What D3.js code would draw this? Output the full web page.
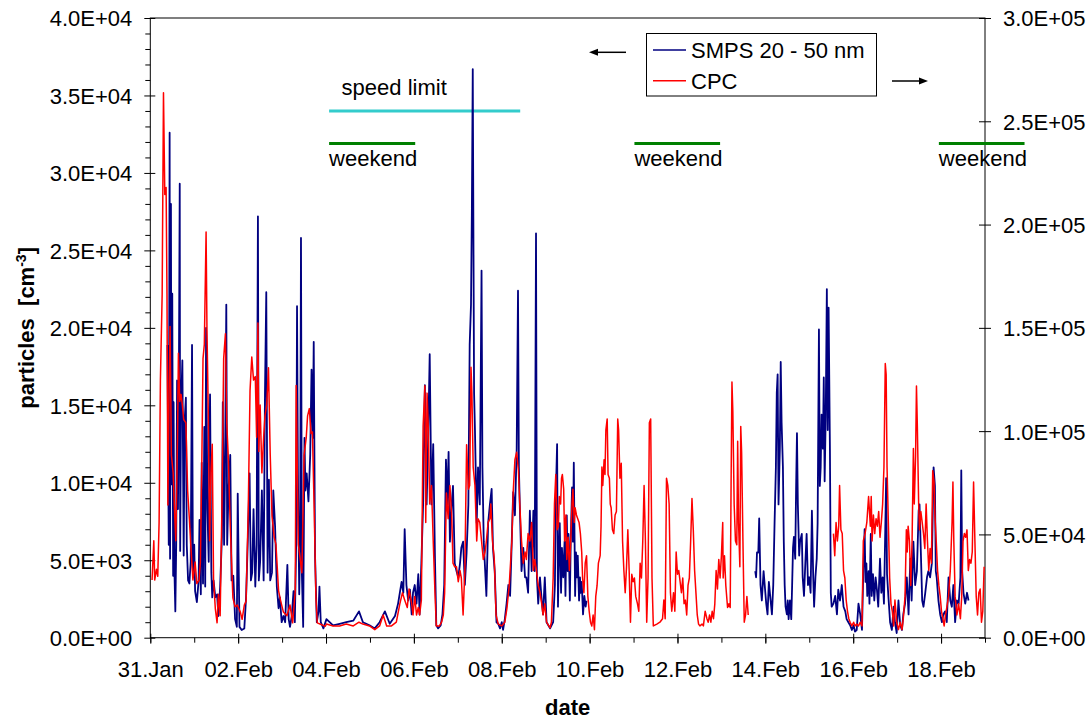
<!DOCTYPE html>
<html>
<head>
<meta charset="utf-8">
<script src="https://cdn.jsdelivr.net/npm/d3@7"></script>
<style>
body { margin: 0; background: #fff; }
svg text { font-family: Arial, "Liberation Sans", sans-serif; font-size: 22px; fill: #000; }
</style>
</head>
<body>
<svg id="chart" width="1092" height="720"></svg>
<script>
var margin = {top: 18, right: 107, bottom: 82.3, left: 150.3};

var W = 1092, H = 720;
var width = W - margin.left - margin.right,
    height = H - margin.top - margin.bottom;

// data (days counted from 31.Jan 00:00)
var startDate = new Date(2006, 0, 31);
var dayCount = 19;
var leftTicks = d3.range(0, 40001, 5000);
var leftMinor = d3.range(1000, 40000, 1000).filter(function(v) { return v % 5000; });
var rightTicks = d3.range(0, 300001, 50000);
var dateTicks = d3.range(0, 19, 2);
var dayTicks = d3.range(0, 20, 1);

var seriesNames = ['SMPS 20 - 50 nm', 'CPC'];
var seriesColors = ['#000080', '#ff0000'];

var speedLimit = [4.07, 8.42];
var weekends = [[4.07, 6.03], [11.02, 12.97], [17.95, 19.9]];

// SMPS 20-50 nm, left axis [cm-3]
var smps = [
  [0.39,18900],[0.42,6000],[0.44,32600],[0.45,5100],[0.47,28000],[0.48,9900],[0.50,22200],[0.52,4000],[0.53,15200],[0.55,4200],
  [0.57,1700],[0.59,6000],[0.61,16600],[0.63,8300],[0.65,16200],[0.67,29300],[0.68,5600],[0.70,15000],[0.73,17900],[0.76,5300],
  [0.78,13900],[0.81,15500],[0.83,6000],[0.86,3700],[0.89,3500],[0.92,4900],[0.95,18900],[0.97,4200],[1.00,6000],[1.02,3000],
  [1.06,2300],[1.10,3700],[1.12,7600],[1.15,2800],[1.17,11300],[1.20,3500],[1.23,13600],[1.25,3300],[1.27,20000],[1.30,8300],
  [1.33,4900],[1.36,15700],[1.39,4200],[1.41,2600],[1.44,3700],[1.48,2600],[1.52,2800],[1.55,1400],[1.59,3300],[1.63,6500],
  [1.65,15200],[1.68,6000],[1.70,10600],[1.73,21500],[1.75,6000],[1.78,9500],[1.82,11800],[1.85,3700],[1.89,4000],[1.93,1200],
  [1.97,700],[1.99,9300],[2.03,700],[2.08,500],[2.14,600],[2.18,2600],[2.22,6300],[2.26,10600],[2.29,3700],[2.32,4200],
  [2.35,8300],[2.39,3300],[2.42,6000],[2.45,27200],[2.47,3700],[2.50,4900],[2.54,9500],[2.58,3700],[2.61,15700],[2.64,22300],
  [2.67,4200],[2.70,10200],[2.73,3700],[2.77,4200],[2.80,9500],[2.84,7200],[2.88,3300],[2.92,1900],[2.95,2600],[2.99,1000],
  [3.03,1400],[3.07,1000],[3.12,4700],[3.15,1200],[3.18,700],[3.22,1400],[3.26,3000],[3.29,1000],[3.32,6000],[3.34,21400],
  [3.36,10600],[3.39,2800],[3.41,6000],[3.43,25800],[3.45,4200],[3.48,700],[3.51,12900],[3.53,9500],[3.56,10600],[3.60,8800],
  [3.64,11800],[3.67,17300],[3.70,12900],[3.72,19100],[3.75,5300],[3.79,1000],[3.83,1700],[3.85,3300],[3.88,1000],[3.94,600],
  [4.01,1200],[4.16,800],[4.31,900],[4.46,1000],[4.62,1100],[4.75,1700],[4.84,1000],[4.99,800],[5.11,600],[5.22,1000],
  [5.34,1700],[5.45,900],[5.57,1400],[5.64,2200],[5.72,3600],[5.76,2900],[5.79,7000],[5.83,3400],[5.87,2400],[5.91,3100],
  [5.95,1500],[5.98,2900],[6.02,3400],[6.06,2200],[6.10,4100],[6.13,1500],[6.17,4800],[6.21,8600],[6.25,16300],[6.29,8600],
  [6.32,12200],[6.36,18300],[6.40,8600],[6.44,12500],[6.48,5100],[6.51,800],[6.55,600],[6.61,800],[6.65,1500],[6.69,3400],
  [6.73,11500],[6.76,8600],[6.79,12000],[6.82,6200],[6.86,8600],[6.89,9800],[6.93,4800],[6.97,4300],[7.01,3900],[7.05,4800],
  [7.08,5800],[7.12,6200],[7.16,3400],[7.20,5500],[7.24,8600],[7.27,18900],[7.30,21500],[7.32,27700],[7.34,36700],[7.37,15800],
  [7.39,13400],[7.43,7400],[7.46,11000],[7.50,8600],[7.54,23700],[7.56,11000],[7.59,6200],[7.63,3900],[7.65,2700],[7.69,7400],
  [7.73,8600],[7.77,9600],[7.80,5800],[7.84,4300],[7.88,1000],[7.92,900],[7.96,600],[8.00,1000],[8.03,500],[8.07,1200],
  [8.11,2200],[8.15,3400],[8.19,2700],[8.22,5500],[8.26,9400],[8.30,7900],[8.34,12200],[8.37,22400],[8.39,11000],[8.41,8600],
  [8.45,4300],[8.49,5800],[8.53,3900],[8.56,3900],[8.60,2900],[8.64,8200],[8.68,4300],[8.72,8200],[8.75,4300],[8.78,26100],
  [8.80,3900],[8.83,2200],[8.87,3900],[8.91,2400],[8.94,1500],[8.98,3900],[9.02,1000],[9.10,600],[9.17,1000],[9.21,3400],
  [9.23,9100],[9.26,12500],[9.28,2000],[9.30,5100],[9.32,7400],[9.35,2900],[9.37,5800],[9.40,3900],[9.43,6200],[9.45,2700],
  [9.48,7900],[9.50,4300],[9.52,6700],[9.55,2400],[9.57,6200],[9.60,9700],[9.62,6200],[9.64,11300],[9.67,2700],[9.69,5500],
  [9.71,3900],[9.73,5300],[9.76,2400],[9.78,3900],[9.80,2900],[9.82,3600],[9.85,1500],[9.88,2700],[9.91,2000],[9.93,2400],
  [11.8,null],
  [13.77,4300],[13.79,3900],[13.81,5500],[13.84,5500],[13.86,7700],[13.89,3400],[13.92,2400],[13.96,4300],[14.00,2900],[14.02,2200],
  [14.05,1500],[14.08,3600],[14.11,2700],[14.15,1500],[14.18,3400],[14.21,7400],[14.24,11000],[14.26,15800],[14.28,17000],[14.30,8600],
  [14.33,12200],[14.35,17800],[14.37,13900],[14.40,11000],[14.42,6200],[14.44,3400],[14.46,2000],[14.49,1500],[14.51,2400],[14.53,1200],
  [14.56,2400],[14.59,1200],[14.61,3400],[14.63,5800],[14.65,6500],[14.68,5100],[14.70,9600],[14.72,13200],[14.74,8600],[14.77,5300],
  [14.79,6200],[14.83,6700],[14.85,3900],[14.88,2700],[14.91,4800],[14.94,6700],[14.97,3400],[15.00,3900],[15.03,2900],[15.06,8200],
  [15.09,3900],[15.11,2000],[15.14,3900],[15.17,5100],[15.19,7400],[15.22,19900],[15.24,9800],[15.26,11000],[15.28,14400],[15.31,12200],
  [15.33,16800],[15.35,10100],[15.375,14400],[15.40,22500],[15.42,13400],[15.44,21300],[15.47,12200],[15.49,2900],[15.51,2000],[15.55,2200],
  [15.59,2700],[15.63,1500],[15.66,3100],[15.70,2400],[15.74,3400],[15.78,2000],[15.82,1700],[15.85,1200],[15.89,1000],[15.93,800],
  [15.97,500],[16.01,800],[16.04,400],[16.08,500],[16.12,2200],[16.16,1500],[16.20,500],[16.23,4300],[16.26,7000],[16.28,3600],
  [16.30,4800],[16.32,2700],[16.35,4300],[16.37,2200],[16.40,6700],[16.42,2700],[16.45,4100],[16.48,2400],[16.51,3900],[16.54,3100],
  [16.57,2000],[16.61,5100],[16.64,2900],[16.67,3900],[16.70,2200],[16.73,7000],[16.75,10300],[16.77,4100],[16.80,2700],[16.84,1000],
  [16.88,500],[16.92,2000],[16.95,1000],[16.99,300],[17.03,2400],[17.07,800],[17.11,500],[17.14,1500],[17.18,2200],[17.22,3900],
  [17.26,1500],[17.30,5100],[17.33,2400],[17.37,6200],[17.41,3400],[17.45,4300],[17.49,8200],[17.51,8600],[17.54,5500],[17.57,2400],
  [17.60,2000],[17.64,2900],[17.68,3900],[17.71,4300],[17.75,3900],[17.79,4800],[17.83,11000],[17.86,9800],[17.88,4300],[17.90,3900],
  [17.94,2400],[17.98,1500],[18.02,1000],[18.05,1500],[18.09,1700],[18.13,1000],[18.17,3900],[18.21,2400],[18.245,2000],[18.28,3400],
  [18.32,1000],[18.36,2400],[18.40,2200],[18.44,3900],[18.46,10800],[18.48,4300],[18.51,2900],[18.55,2200],[18.59,2900],[18.625,2400]
];

// CPC, right axis [cm-3]
var cpc = [
  [0.04,27900],[0.08,46900],[0.10,27900],[0.14,33100],[0.17,29700],[0.20,55600],[0.23,124700],[0.27,166200],[0.30,263800],[0.33,214500],
  [0.36,218000],[0.38,166200],[0.40,64200],[0.43,123000],[0.45,150600],[0.48,88400],[0.52,79800],[0.55,62500],[0.58,46900],[0.62,97000],
  [0.64,137700],[0.67,114300],[0.70,117800],[0.73,112600],[0.76,105700],[0.81,104000],[0.85,71100],[0.89,57300],[0.92,45200],[0.97,27900],
  [1.02,36600],[1.06,26200],[1.11,27900],[1.14,36600],[1.17,79800],[1.20,135100],[1.23,142000],[1.27,196400],[1.29,148900],[1.32,109100],
  [1.35,46900],[1.38,79800],[1.41,93600],[1.44,27900],[1.48,14100],[1.52,7200],[1.55,21000],[1.59,10600],[1.63,62500],[1.67,135100],
  [1.71,147200],[1.74,104000],[1.78,85000],[1.82,53800],[1.88,19300],[1.93,15000],[1.98,15800],[2.05,12400],[2.09,8900],[2.14,15800],
  [2.18,17600],[2.23,62500],[2.27,119500],[2.31,135900],[2.35,124700],[2.39,126400],[2.42,97000],[2.45,152300],[2.47,90100],[2.50,112600],
  [2.54,79800],[2.58,97000],[2.61,107400],[2.65,112600],[2.69,130700],[2.73,88400],[2.77,59000],[2.82,48700],[2.86,45200],[2.92,22700],
  [2.97,17600],[3.03,12400],[3.11,10600],[3.18,15800],[3.24,7200],[3.30,22700],[3.32,122100],[3.37,45200],[3.45,31400],[3.50,88400],
  [3.55,97000],[3.58,107400],[3.62,110900],[3.66,98800],[3.69,99600],[3.73,62500],[3.77,19300],[3.80,7200],[3.90,6300],[3.98,5500],
  [4.01,6600],[4.16,5700],[4.31,5700],[4.46,6600],[4.62,5700],[4.75,7500],[4.84,6600],[4.99,5700],[5.11,3900],[5.22,5700],
  [5.30,11000],[5.38,5700],[5.49,5700],[5.60,7500],[5.68,16400],[5.74,21800],[5.79,18200],[5.85,14600],[5.89,23600],[5.95,16400],
  [5.98,11000],[6.02,20000],[6.06,11000],[6.10,14600],[6.13,11000],[6.17,18200],[6.21,102300],[6.25,122000],[6.27,55800],[6.30,118400],
  [6.33,100500],[6.36,64700],[6.40,73700],[6.44,46800],[6.48,21800],[6.51,5700],[6.58,5700],[6.63,7500],[6.67,11000],[6.70,21800],
  [6.74,70100],[6.78,57600],[6.82,73700],[6.86,59400],[6.89,36100],[6.93,34300],[6.97,34300],[7.01,27100],[7.05,32500],[7.08,28900],
  [7.12,11000],[7.16,32500],[7.20,93400],[7.24,71900],[7.27,73700],[7.30,130900],[7.32,118400],[7.35,82600],[7.39,73700],[7.43,46800],
  [7.46,57600],[7.50,55800],[7.54,46800],[7.58,37900],[7.62,41500],[7.65,46800],[7.69,55800],[7.73,57600],[7.75,64700],[7.79,46800],
  [7.83,37900],[7.87,11000],[7.92,6600],[8.00,5700],[8.07,7500],[8.12,14600],[8.17,25300],[8.20,36100],[8.23,46800],[8.26,70100],
  [8.30,86200],[8.34,89800],[8.38,80800],[8.41,64700],[8.45,46800],[8.49,36100],[8.53,41500],[8.56,37900],[8.60,50400],[8.64,46800],
  [8.68,55800],[8.72,32500],[8.75,37900],[8.79,32500],[8.83,25300],[8.87,21800],[8.91,16400],[8.94,11000],[8.98,16400],[9.02,7500],
  [9.10,4800],[9.13,7500],[9.17,28900],[9.20,64700],[9.23,79000],[9.26,52200],[9.29,54000],[9.31,68300],[9.34,64700],[9.36,77200],
  [9.38,79000],[9.41,71900],[9.43,46800],[9.46,59400],[9.48,37900],[9.51,48600],[9.54,32500],[9.57,46800],[9.60,64700],[9.62,71900],
  [9.65,55800],[9.67,62900],[9.70,59400],[9.73,57600],[9.76,55800],[9.79,50400],[9.82,41500],[9.84,28900],[9.87,21800],[9.90,36100],
  [9.93,39700],[9.96,20000],[9.99,12800],[10.02,7500],[10.05,5700],[10.08,11000],[10.11,3900],[10.14,20000],[10.17,25300],[10.20,36100],
  [10.24,39700],[10.26,54000],[10.28,82600],[10.30,73700],[10.33,86200],[10.35,79000],[10.37,100500],[10.40,105900],[10.42,79000],[10.45,77200],
  [10.47,64700],[10.49,62900],[10.52,52200],[10.55,50400],[10.58,59400],[10.61,61100],[10.64,105900],[10.66,100500],[10.69,77200],[10.72,84400],
  [10.75,46800],[10.78,32500],[10.81,21800],[10.84,34300],[10.87,52200],[10.90,32500],[10.93,7500],[10.96,30700],[10.99,27100],[11.02,28900],
  [11.05,20000],[11.09,16400],[11.12,12800],[11.15,36100],[11.18,28900],[11.21,46800],[11.24,73700],[11.27,46800],[11.30,7500],[11.33,28900],
  [11.36,104100],[11.39,105900],[11.42,28900],[11.45,5700],[11.53,6600],[11.60,7500],[11.66,9200],[11.69,18200],[11.72,9200],[11.75,77200],
  [11.78,73700],[11.81,64700],[11.84,21800],[11.87,12800],[11.91,21800],[11.94,12800],[11.97,41500],[12.00,30700],[12.03,32500],[12.06,27100],
  [12.09,21800],[12.12,28900],[12.15,16400],[12.18,18200],[12.21,11000],[12.24,25300],[12.27,28900],[12.30,46800],[12.33,67400],[12.36,52200],
  [12.39,32500],[12.42,21800],[12.45,11000],[12.48,6600],[12.51,5700],[12.56,6600],[12.59,5700],[12.63,12800],[12.67,9200],[12.70,7500],
  [12.73,11000],[12.76,7500],[12.79,12800],[12.82,9200],[12.85,16400],[12.88,32500],[12.91,23600],[12.94,37900],[12.97,28900],[13.00,39700],
  [13.03,55800],[13.04,28900],[13.07,39700],[13.10,25300],[13.14,14600],[13.17,16400],[13.20,14600],[13.22,73700],[13.24,123800],[13.26,109500],
  [13.29,64700],[13.32,46800],[13.35,45000],[13.37,95100],[13.39,55800],[13.42,34300],[13.44,102300],[13.46,89800],[13.49,46800],[13.52,7500],
  [13.55,11000],[13.58,20000],[13.61,11000],
  [14.6,null],
  [15.55,50400],[15.58,39700],[15.61,55800],[15.64,46800],[15.67,54000],[15.69,73700],[15.72,52200],[15.75,50400],[15.78,32500],[15.81,28900],
  [15.84,18200],[15.87,12800],[15.90,9200],[15.93,7500],[15.97,5700],[16.01,7500],[16.04,5700],[16.08,6600],[16.12,5700],[16.16,7500],
  [16.20,5700],[16.23,46800],[16.27,50400],[16.31,55800],[16.35,68300],[16.39,54000],[16.41,68300],[16.43,46800],[16.46,59400],[16.49,50400],
  [16.52,57600],[16.55,54000],[16.58,61100],[16.61,48600],[16.64,55800],[16.67,64700],[16.70,82600],[16.73,132700],[16.75,127400],[16.77,82600],
  [16.80,55800],[16.83,28900],[16.86,16400],[16.89,12800],[16.92,5700],[16.95,18200],[16.99,7500],[17.03,3900],[17.07,7500],[17.11,3900],
  [17.14,9200],[17.18,20000],[17.21,52200],[17.23,41500],[17.25,54000],[17.28,46800],[17.31,25300],[17.34,46800],[17.37,91600],[17.39,64700],
  [17.42,88000],[17.44,121800],[17.46,102300],[17.49,64700],[17.51,52200],[17.54,61100],[17.57,55800],[17.60,50400],[17.63,43200],[17.66,64700],
  [17.69,46800],[17.72,32500],[17.75,43200],[17.78,36100],[17.81,80800],[17.84,75400],[17.86,59400],[17.89,46800],[17.92,32500],[17.95,25300],
  [17.98,20000],[18.01,12800],[18.04,9200],[18.07,5700],[18.10,11000],[18.13,14600],[18.17,20000],[18.21,32500],[18.25,55800],[18.27,75400],
  [18.29,46800],[18.32,20000],[18.36,11000],[18.40,16400],[18.44,9200],[18.47,20000],[18.50,46800],[18.53,50400],[18.56,48600],[18.59,52200],
  [18.62,32500],[18.65,37900],[18.68,36100],[18.71,41500],[18.74,75400],[18.77,46800],[18.80,20000],[18.83,11000],[18.86,21800],[18.89,23600],
  [18.92,7500],[18.95,12800],[18.98,34300]
];

function toDate(d) { return new Date(startDate.getTime() + d * 864e5); }

// 4.0E+04 style labels
function sci(v) {
    if (v === 0) return '0.0E+00';
    var e = Math.floor(Math.log10(v) + 1e-9);
    var m = v / Math.pow(10, e);
    return m.toFixed(1) + 'E+' + (e < 10 ? '0' : '') + e;
}

// scales and axes
var xScale = d3.scaleTime()
    .domain([startDate, d3.timeDay.offset(startDate, dayCount)])
    .range([0, width]);

var yLeft = d3.scaleLinear()
    .domain([0, 40000])
    .range([height, 0]);

var yRight = d3.scaleLinear()
    .domain([0, 300000])
    .range([height, 0]);

var svg = d3.select('#chart');
svg.append('rect').attr('width', W).attr('height', H).attr('fill', '#fff');

var g = svg.append('g')
    .attr('transform', 'translate(' + margin.left + ',' + margin.top + ')');

function label(parent, x, y, str) {
    return parent.append('text').attr('x', x).attr('y', y).text(str);
}

// minor ticks
g.append('g')
    .attr('transform', 'translate(0,' + height + ')')
    .call(d3.axisBottom(xScale).tickValues(dayTicks.map(toDate)).tickSize(5).tickFormat(''))
    .call(function(a) { a.select('.domain').remove(); });

g.append('g')
    .call(d3.axisLeft(yLeft).tickValues(leftMinor).tickSize(5).tickFormat(''))
    .call(function(a) { a.select('.domain').remove(); });

// x axis
var xg = g.append('g')
    .attr('transform', 'translate(0,' + height + ')')
    .call(d3.axisBottom(xScale)
        .tickValues(dateTicks.map(toDate))
        .tickSize(6)
        .tickSizeOuter(0)
        .tickFormat(d3.timeFormat('%d.%b')));
xg.select('.domain').remove();
xg.selectAll('.tick line').attr('y1', -4);
xg.selectAll('.tick text').attr('y', 39.3).attr('dy', null);

// left axis
var lg = g.append('g')
    .call(d3.axisLeft(yLeft).tickValues(leftTicks).tickSize(6).tickSizeOuter(0).tickFormat(sci));
lg.select('.domain').remove();
lg.selectAll('.tick line').attr('x1', 5);
lg.selectAll('.tick text').attr('x', -18).attr('dy', '0.36em');

// right axis
var rg = g.append('g')
    .attr('transform', 'translate(' + width + ',0)')
    .call(d3.axisRight(yRight).tickValues(rightTicks).tickSize(6).tickSizeOuter(0).tickFormat(sci));
rg.select('.domain').remove();
rg.selectAll('.tick line').attr('x1', -6);
rg.selectAll('.tick text').attr('x', 18).attr('dy', '0.36em');

g.selectAll('.tick line').attr('stroke', '#000');

// plot frame
g.append('rect')
    .attr('width', width).attr('height', height)
    .attr('fill', 'none').attr('stroke', '#000').attr('stroke-width', 1);

// annotations: speed limit and weekends
var speedY = yLeft(34000);
g.append('line')
    .attr('x1', xScale(toDate(speedLimit[0]))).attr('x2', xScale(toDate(speedLimit[1])))
    .attr('y1', speedY).attr('y2', speedY)
    .attr('stroke', '#33cccc').attr('stroke-width', 3);
label(g, xScale(toDate(speedLimit[0])) + 12.5, speedY - 16, 'speed limit');

var weekendY = yLeft(31900);
weekends.forEach(function(w) {
    g.append('line')
        .attr('x1', xScale(toDate(w[0]))).attr('x2', xScale(toDate(w[1])))
        .attr('y1', weekendY).attr('y2', weekendY)
        .attr('stroke', '#008000').attr('stroke-width', 3);
    label(g, xScale(toDate(w[0])), weekendY + 22.4, 'weekend');
});

// data lines
var smpsLine = d3.line()
    .defined(function(d) { return d[1] != null; })
    .x(function(d) { return xScale(toDate(d[0])); })
    .y(function(d) { return yLeft(d[1]); });

var cpcLine = d3.line()
    .defined(function(d) { return d[1] != null; })
    .x(function(d) { return xScale(toDate(d[0])); })
    .y(function(d) { return yRight(d[1]); });

g.append('path').datum(smps)
    .attr('d', smpsLine)
    .attr('fill', 'none').attr('stroke', seriesColors[0])
    .attr('stroke-width', 1.8).attr('stroke-linejoin', 'round');

g.append('path').datum(cpc)
    .attr('d', cpcLine)
    .attr('fill', 'none').attr('stroke', seriesColors[1])
    .attr('stroke-width', 1.5).attr('stroke-linejoin', 'round');

// legend
var legend = svg.append('g');
legend.append('rect')
    .attr('x', 646.5).attr('y', 33.5).attr('width', 230).attr('height', 62.5)
    .attr('fill', '#fff').attr('stroke', '#000').attr('stroke-width', 1);
seriesNames.forEach(function(name, i) {
    var ly = 50 + i * 30.7;
    legend.append('line')
        .attr('x1', 653).attr('x2', 686).attr('y1', ly).attr('y2', ly)
        .attr('stroke', seriesColors[i]).attr('stroke-width', 1.5);
    label(legend, 691, ly + 7.9, name);
});

// axis arrows
var arrows = svg.append('g');
arrows.append('line').attr('x1', 598).attr('x2', 626).attr('y1', 52.3).attr('y2', 52.3)
    .attr('stroke', '#000').attr('stroke-width', 1.5);
arrows.append('path').attr('d', 'M589,52.3L598,48.8L598,55.8Z').attr('fill', '#000');
arrows.append('line').attr('x1', 892).attr('x2', 919).attr('y1', 81).attr('y2', 81)
    .attr('stroke', '#000').attr('stroke-width', 1.5);
arrows.append('path').attr('d', 'M928,81L919,77.5L919,84.5Z').attr('fill', '#000');

// axis titles
label(svg, margin.left + width / 2, 715, 'date')
    .attr('text-anchor', 'middle').attr('font-weight', 'bold');

var yTitle = svg.append('text')
    .attr('transform', 'translate(34,' + (margin.top + height / 2) + ') rotate(-90)')
    .attr('text-anchor', 'middle')
    .attr('font-weight', 'bold')
    .style('white-space', 'pre');
yTitle.append('tspan').text('particles  [cm');
yTitle.append('tspan').attr('dy', -8).style('font-size', '14px').text('-3');
yTitle.append('tspan').attr('dy', 8).text(']');
</script>
</body>
</html>
